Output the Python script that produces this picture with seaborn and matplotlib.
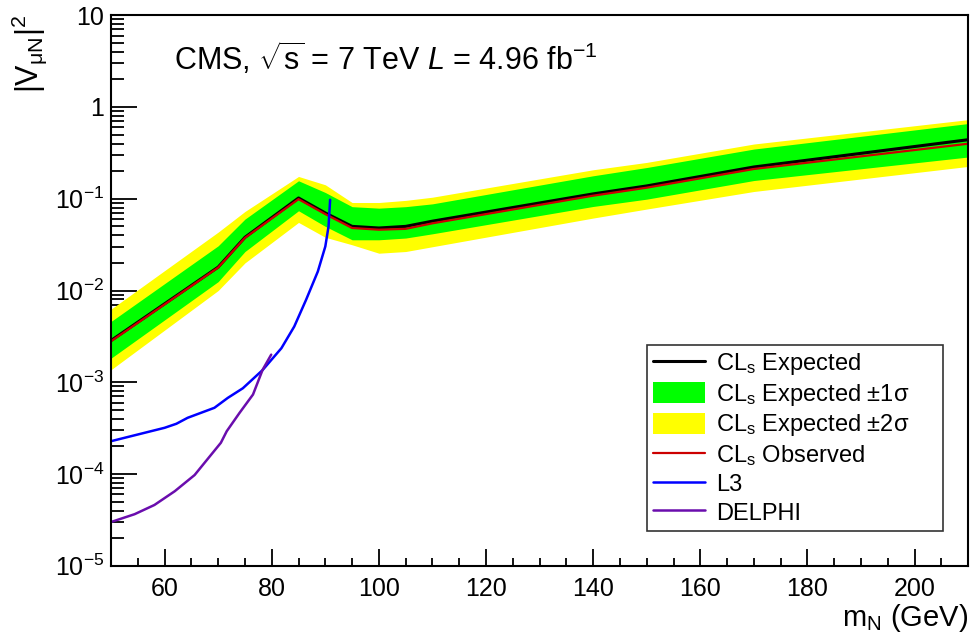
import numpy as np
import pandas as pd
import matplotlib
matplotlib.use("Agg")
import matplotlib.pyplot as plt
import matplotlib.ticker as mticker
from matplotlib.lines import Line2D
from matplotlib.patches import Patch
import seaborn as sns

# mass points of the CMS limit
mass = [50, 70, 75, 85, 90, 95, 100, 105, 110, 140, 150, 170, 210]
expected = [2.85e-3, 0.018, 0.038, 0.102, 0.070, 0.050, 0.048, 0.050, 0.057, 0.113, 0.138, 0.222, 0.44]
observed = [2.8e-3, 0.0178, 0.0375, 0.099, 0.068, 0.048, 0.046, 0.047, 0.054, 0.108, 0.132, 0.211, 0.398]
up1 = [4.6e-3, 0.0307, 0.060, 0.157, 0.117, 0.082, 0.079, 0.082, 0.088, 0.178, 0.219, 0.348, 0.66]
dn1 = [1.83e-3, 0.0125, 0.0266, 0.074, 0.050, 0.0357, 0.0357, 0.0373, 0.0415, 0.0824, 0.099, 0.158, 0.285]
up2 = [6.27e-3, 0.0433, 0.0727, 0.175, 0.142, 0.091, 0.091, 0.096, 0.104, 0.207, 0.249, 0.395, 0.728]
dn2 = [1.37e-3, 0.0100, 0.020, 0.0552, 0.038, 0.0315, 0.0255, 0.0266, 0.030, 0.0616, 0.0772, 0.12, 0.225]

# L3 limit
l3_mass = [50, 60, 62.2, 64.3, 69.3, 71.8, 74.6, 78.3, 81.8, 84.2, 86.4, 88.6, 90.0, 90.6, 90.9]
l3_val = [2.28e-4, 3.19e-4, 3.53e-4, 4.1e-4, 5.27e-4, 6.76e-4, 8.6e-4, 1.36e-3, 2.35e-3, 4.05e-3,
          7.9e-3, 0.0161, 0.0302, 0.0499, 0.0975]

# DELPHI limit
delphi_mass = [50, 54.4, 58.1, 61.9, 65.6, 68.0, 70.5, 71.6, 74.0, 76.5, 78.3, 79.9]
delphi_val = [3.0e-5, 3.65e-5, 4.6e-5, 6.5e-5, 9.75e-5, 1.45e-4, 2.19e-4, 2.93e-4, 4.65e-4,
              7.35e-4, 1.37e-3, 2.0e-3]

sns.set_style("ticks")
plt.rcParams["font.family"] = ["Liberation Sans", "DejaVu Sans"]
plt.rcParams["mathtext.fontset"] = "custom"
plt.rcParams["mathtext.rm"] = "Liberation Sans"
plt.rcParams["mathtext.it"] = "Liberation Sans:italic"
plt.rcParams["mathtext.sf"] = "Liberation Sans"
plt.rcParams["text.color"] = "black"
plt.rcParams["axes.labelcolor"] = "black"

df = pd.DataFrame({"mass": mass, "exp": expected, "obs": observed,
                   "up1": up1, "dn1": dn1, "up2": up2, "dn2": dn2})
df_l3 = pd.DataFrame({"mass": l3_mass, "val": l3_val})
df_delphi = pd.DataFrame({"mass": delphi_mass, "val": delphi_val})

fig = plt.figure(figsize=(9.74, 6.35), dpi=100)
ax = fig.add_axes([0.114, 0.109, 0.880, 0.867])

ax.fill_between(df["mass"], df["dn2"], df["up2"], color="#ffff00", lw=0)
ax.fill_between(df["mass"], df["dn1"], df["up1"], color="#00ff00", lw=0)
sns.lineplot(data=df, x="mass", y="exp", color="black", lw=2.2, ax=ax)
sns.lineplot(data=df, x="mass", y="obs", color="#cc0000", lw=1.6, ax=ax)
sns.lineplot(data=df_l3, x="mass", y="val", color="#0000ff", lw=1.8, sort=False, ax=ax)
sns.lineplot(data=df_delphi, x="mass", y="val", color="#6a0dad", lw=1.8, sort=False, ax=ax)

ax.set_yscale("log")
ax.set_xlim(50, 210)
ax.set_ylim(1e-5, 10)

ax.xaxis.set_major_locator(mticker.MultipleLocator(20))
ax.xaxis.set_minor_locator(mticker.MultipleLocator(5))
ax.yaxis.set_major_locator(mticker.FixedLocator([1e-5, 1e-4, 1e-3, 1e-2, 1e-1, 1, 10]))
ax.yaxis.set_major_formatter(mticker.FixedFormatter(
    ["$10^{-5}$", "$10^{-4}$", "$10^{-3}$", "$10^{-2}$", "$10^{-1}$", "1", "10"]))
ax.yaxis.set_minor_locator(mticker.LogLocator(base=10, subs=np.arange(2, 10), numticks=20))
ax.yaxis.set_minor_formatter(mticker.NullFormatter())

ax.tick_params(axis="both", which="both", direction="in", top=False, right=False,
               width=1.3, labelsize=18, color="black", labelcolor="black")
ax.tick_params(axis="y", which="major", length=19, pad=5)
ax.tick_params(axis="y", which="minor", length=9)
ax.tick_params(axis="x", which="major", length=12, pad=8)
ax.tick_params(axis="x", which="minor", length=6)
for sp in ax.spines.values():
    sp.set_linewidth(1.5)
    sp.set_color("black")
    sp.set_visible(True)

ax.set_xlabel(r"m$_{\mathrm{N}}$ (GeV)", fontsize=21, loc="right", labelpad=1)
ax.set_ylabel(r"|V$_{\mathrm{μN}}$|$^{2}$", fontsize=22, loc="top", labelpad=4)

ax.text(0.074, 0.922, r"CMS, $\sqrt{\mathrm{s}}$ = 7 TeV $L$ = 4.96 fb$^{-1}$",
        transform=ax.transAxes, fontsize=22, va="center", ha="left")

handles = [Line2D([], [], color="black", lw=2.2),
           Patch(facecolor="#00ff00", edgecolor="none"),
           Patch(facecolor="#ffff00", edgecolor="none"),
           Line2D([], [], color="#cc0000", lw=1.6),
           Line2D([], [], color="#0000ff", lw=1.8),
           Line2D([], [], color="#6a0dad", lw=1.8)]
labels = [r"CL$_{\mathrm{s}}$ Expected", r"CL$_{\mathrm{s}}$ Expected ±1σ",
          r"CL$_{\mathrm{s}}$ Expected ±2σ", r"CL$_{\mathrm{s}}$ Observed",
          "L3", "DELPHI"]
leg = ax.legend(handles, labels, loc="lower left", bbox_to_anchor=(0.625, 0.064, 0.346, 0.3),
                mode="expand", fontsize=17, frameon=True, fancybox=False, handlelength=2.2,
                handleheight=1.0, labelspacing=0.2, borderpad=0.25, handletextpad=0.5,
                borderaxespad=0)
leg.get_frame().set_edgecolor("black")
leg.get_frame().set_linewidth(1.2)

fig.savefig("out.png", dpi=100)
